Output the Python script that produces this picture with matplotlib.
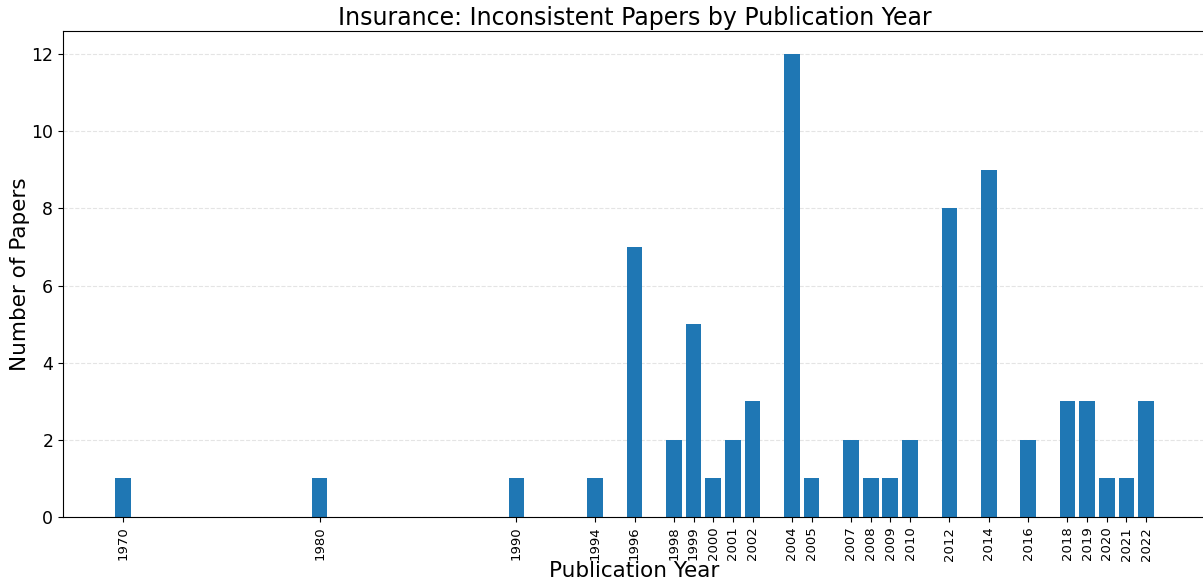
import numpy as np
import matplotlib
matplotlib.use("Agg")
import matplotlib.pyplot as plt

years = [1970, 1980, 1990, 1994, 1996, 1998, 1999, 2000, 2001, 2002, 2004, 2005,
         2007, 2008, 2009, 2010, 2012, 2014, 2016, 2018, 2019, 2020, 2021, 2022]
counts = [1, 1, 1, 1, 7, 2, 5, 1, 2, 3, 12, 1,
          2, 1, 1, 2, 8, 9, 2, 3, 3, 1, 1, 3]

fig = plt.figure(figsize=(12.03, 5.85), dpi=100)
ax = fig.add_axes([63 / 1203, 68 / 585, 1143 / 1203, 486 / 585])

ax.bar(years, counts, color="#1f77b4", width=0.8)
ax.set_xticks(years)
ax.set_xticklabels([str(y) for y in years], rotation=90, fontsize=9.5)
ax.tick_params(axis="y", labelsize=12.5)
ax.yaxis.grid(True, linestyle="--", alpha=0.6, color="lightgray")
ax.set_axisbelow(True)

ax.set_title("Insurance: Inconsistent Papers by Publication Year", fontsize=17, pad=4)
ax.set_xlabel("Publication Year", fontsize=15.5, labelpad=0)
ax.set_ylabel("Number of Papers", fontsize=15.5)
ax.yaxis.set_label_coords(-0.029, 0.5)

fig.savefig("out.png", dpi=100)
